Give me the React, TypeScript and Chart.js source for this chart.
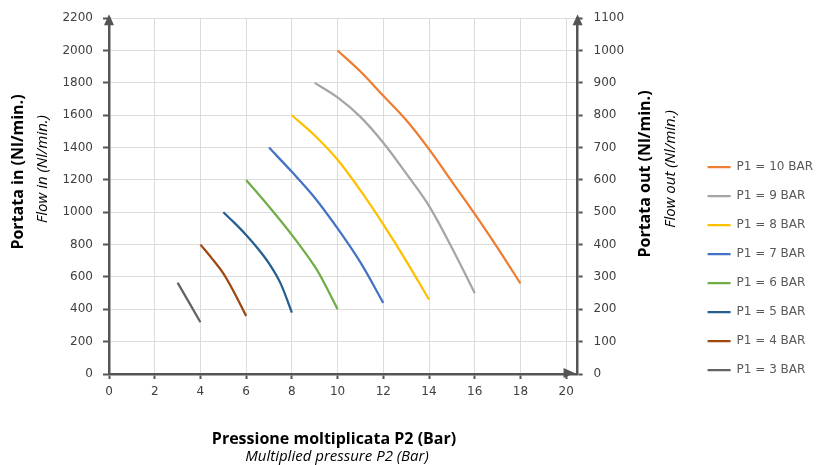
import React, { useEffect, useRef } from 'react';
import { Chart, registerables } from 'chart.js';

Chart.register(...registerables);

// ---- Data ----
const seriesLabels = [
  'P1 = 10 BAR',
  'P1 = 9 BAR',
  'P1 = 8 BAR',
  'P1 = 7 BAR',
  'P1 = 6 BAR',
  'P1 = 5 BAR',
  'P1 = 4 BAR',
  'P1 = 3 BAR',
];
const seriesColors = ['#ED7D31', '#A5A5A5', '#FFC000', '#4472C4', '#70AD47', '#255E91', '#9E480E', '#636363'];

const p10Pressure = [10, 11, 12, 13, 14, 15, 16, 17, 18];
const p10Flow = [2000, 1870, 1720, 1570, 1390, 1190, 990, 780, 560];
const p9Pressure = [9, 10, 11, 12, 13, 14, 15, 16];
const p9Flow = [1800, 1710, 1590, 1430, 1240, 1040, 780, 500];
const p8Pressure = [8, 9, 10, 11, 12, 13, 14];
const p8Flow = [1600, 1475, 1325, 1135, 925, 700, 460];
const p7Pressure = [7, 8, 9, 10, 11, 12];
const p7Flow = [1400, 1250, 1090, 900, 690, 440];
const p6Pressure = [6, 7, 8, 9, 9.5, 10];
const p6Flow = [1200, 1035, 860, 665, 540, 400];
const p5Pressure = [5, 5.5, 6, 6.5, 7, 7.5, 8];
const p5Flow = [1000, 933, 860, 778, 684, 562, 380];
const p4Pressure = [4, 4.5, 5, 5.5, 6];
const p4Flow = [800, 715, 622, 498, 358];
const p3Pressure = [3, 4];
const p3Flow = [565, 320];

const pressures = [p10Pressure, p9Pressure, p8Pressure, p7Pressure, p6Pressure, p5Pressure, p4Pressure, p3Pressure];
const flows = [p10Flow, p9Flow, p8Flow, p7Flow, p6Flow, p5Flow, p4Flow, p3Flow];

const xMin = 0;
const xMax = 20.5;
const xStep = 2;
const yInMax = 2200;
const yInStep = 200;
const yOutMax = 1100;
const yOutStep = 100;

const xTitleMain = 'Pressione moltiplicata P2 (Bar)';
const xTitleSub = 'Multiplied pressure P2 (Bar)';
const yInTitleMain = 'Portata in (Nl/min.)';
const yInTitleSub = 'Flow in (Nl/min.)';
const yOutTitleMain = 'Portata out (Nl/min.)';
const yOutTitleSub = 'Flow out (Nl/min.)';

const AXIS_COLOR = '#555555';
const GRID_COLOR = '#dcdcdc';
const TICK_FONT = { family: '"DejaVu Sans"', size: 12 };
const TICK_COLOR = '#404040';
const plainNum = (v: any) => String(v);

const decorPlugin = {
  id: 'decor',
  afterDraw(chart: any) {
    const { ctx, chartArea: a } = chart;
    ctx.save();
    ctx.fillStyle = AXIS_COLOR;
    const tri = (pts: number[][]) => {
      ctx.beginPath();
      ctx.moveTo(pts[0][0], pts[0][1]);
      ctx.lineTo(pts[1][0], pts[1][1]);
      ctx.lineTo(pts[2][0], pts[2][1]);
      ctx.closePath();
      ctx.fill();
    };
    // up arrows
    tri([[a.left, a.top - 4], [a.left - 5, a.top + 7], [a.left + 5, a.top + 7]]);
    tri([[a.right, a.top - 4], [a.right - 5, a.top + 7], [a.right + 5, a.top + 7]]);
    // right arrow on x axis
    tri([[a.right - 3, a.bottom - 1], [a.right - 14, a.bottom - 6], [a.right - 14, a.bottom + 4]]);

    // titles
    ctx.fillStyle = '#000';
    ctx.textAlign = 'center';
    ctx.textBaseline = 'alphabetic';
    ctx.font = 'bold 16px "Open Sans"';
    ctx.fillText(xTitleMain, 334, 444);
    ctx.font = 'italic 15px "Open Sans"';
    ctx.fillText(xTitleSub, 337, 461);

    const vtext = (text: string, x: number, y: number, font: string) => {
      ctx.save();
      ctx.translate(x, y);
      ctx.rotate(-Math.PI / 2);
      ctx.font = font;
      ctx.textBaseline = 'middle';
      ctx.textAlign = 'center';
      ctx.fillText(text, 0, 0);
      ctx.restore();
    };
    vtext(yInTitleMain, 18, 172, 'bold 16px "Open Sans"');
    vtext(yInTitleSub, 43, 169, 'italic 15px "Open Sans"');
    vtext(yOutTitleMain, 645, 174, 'bold 16px "Open Sans"');
    vtext(yOutTitleSub, 671, 169, 'italic 15px "Open Sans"');
    ctx.restore();
  },
};

export default function App() {
  const ref = useRef<HTMLCanvasElement | null>(null);

  useEffect(() => {
    if (!ref.current) return;
    const datasets = seriesLabels.map((label, i) => ({
      label,
      data: pressures[i].map((x, j) => ({ x, y: flows[i][j] })),
      borderColor: seriesColors[i],
      backgroundColor: seriesColors[i],
      borderWidth: 2.25,
      pointRadius: 0,
      tension: 0.35,
      fill: false,
      yAxisID: 'y',
    }));

    const chart = new Chart(ref.current, {
      type: 'line',
      data: { datasets },
      plugins: [decorPlugin],
      options: {
        animation: false,
        responsive: false,
        devicePixelRatio: 1,
        events: [],
        layout: { padding: { top: 18, left: 0, right: 0, bottom: 0 } },
        plugins: {
          tooltip: { enabled: false },
          legend: {
            position: 'right',
            align: 'center',
            title: { display: true, text: ' ', padding: { top: 20, bottom: 20 }, font: { size: 12 } },
            labels: {
              usePointStyle: true,
              pointStyle: 'line',
              pointStyleWidth: 23,
              padding: 17,
              color: '#595959',
              font: { family: '"DejaVu Sans"', size: 12 },
            },
          },
        },
        scales: {
          x: {
            type: 'linear',
            min: xMin,
            max: xMax,
            ticks: {
              stepSize: xStep,
              includeBounds: false,
              font: TICK_FONT,
              color: TICK_COLOR,
              padding: 6,
              maxRotation: 0,
              callback: plainNum,
            },
            grid: { color: GRID_COLOR, tickColor: AXIS_COLOR, tickLength: 5, tickWidth: 2 },
            border: { color: AXIS_COLOR, width: 2.5 },
            afterFit: (s: any) => { s.height = 91; },
          },
          y: {
            type: 'linear',
            position: 'left',
            min: 0,
            max: yInMax,
            ticks: { stepSize: yInStep, font: TICK_FONT, color: TICK_COLOR, padding: 10, callback: plainNum },
            grid: { color: GRID_COLOR, tickColor: AXIS_COLOR, tickLength: 6, tickWidth: 2 },
            border: { color: AXIS_COLOR, width: 2.5 },
            afterFit: (s: any) => { s.width = 109; },
          },
          y1: {
            type: 'linear',
            position: 'right',
            min: 0,
            max: yOutMax,
            ticks: { stepSize: yOutStep, font: TICK_FONT, color: TICK_COLOR, padding: 11, callback: plainNum },
            grid: { drawOnChartArea: false, tickColor: AXIS_COLOR, tickLength: 5, tickWidth: 2 },
            border: { color: AXIS_COLOR, width: 2.5 },
            afterFit: (s: any) => { s.width = 113; },
          },
        },
      },
    });
    return () => chart.destroy();
  }, []);

  return (
    <div style={{ position: 'absolute', left: 0, top: 0, width: 823, height: 465, background: '#fff' }}>
      <canvas ref={ref} width={823} height={465} style={{ width: 823, height: 465, display: 'block' }} />
    </div>
  );
}
